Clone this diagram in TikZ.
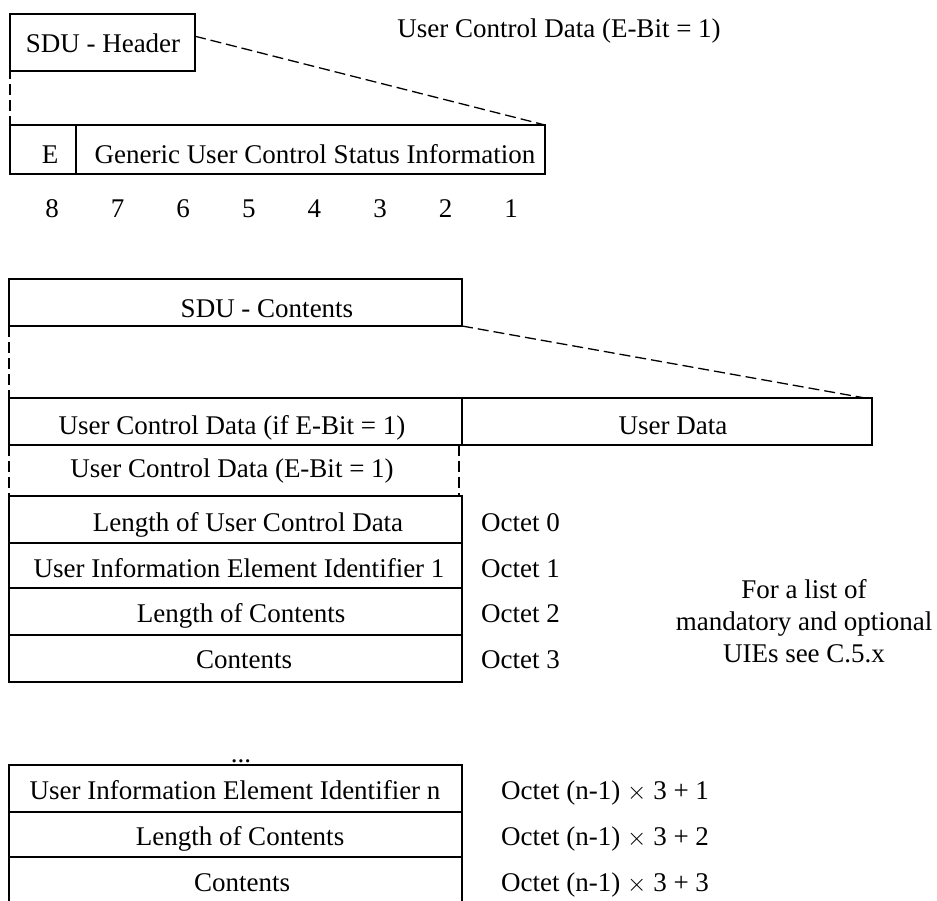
\documentclass[tikz,border=0pt]{standalone}
\usepackage{fontspec}
\setmainfont{Liberation Serif}
\usetikzlibrary{calc}
\newcommand{\rowbox}[5]{%
  \node[boxn, minimum width={#4-#2}, minimum height={#5-#3}] (#1) at ({(#2+#4)/2},{(#3+#5)/2}) {};}
\tikzset{
  boxn/.style={draw=black, line width=1.4pt, rectangle, inner sep=0pt, outer sep=0pt},
  sepline/.style={draw=black, line width=2.4pt},
  txt/.style={anchor=base, inner sep=0pt, font=\fontsize{27}{31}\selectfont},
  txtl/.style={anchor=base west, inner sep=0pt, font=\fontsize{27}{31}\selectfont},
  dline/.style={draw=black, line width=1.3pt, dash pattern=on 11pt off 5pt},
}
\begin{document}
\begin{tikzpicture}[x=1pt,y=-1pt]
\fill[white] (0,0) rectangle (937,900);
\useasboundingbox (0,0) rectangle (937,900);

% ---- top part
\node[txt] (ucdtop) at (559,37) {User Control Data (E-Bit = 1)};
\rowbox{hdr}{10}{14}{195}{71}
\node[txt] (thdr) at (103,52) {SDU - Header};
\rowbox{ebox}{10}{125}{76}{174}
\rowbox{gbox}{76}{125}{545}{174}
\node[txt] (te) at (50,163) {E};
\node[txt] (tg) at (315,163) {Generic User Control Status Information};
\draw[sepline] (gbox.north west) -- (gbox.south west);
\coordinate (hdrr) at ($(hdr.north east)!0.39!(hdr.south east)$);
\coordinate (hdrl) at ($(hdr.north west)!0.39!(hdr.south west)$);
\draw[dline] (hdrl) -- (ebox.north west);
\draw[dline] (hdrr) -- (gbox.north east);
\foreach \n [count=\i from 0] in {8,7,6,5,4,3,2,1} {
  \node[txt] (bit\n) at (52+65.6*\i,217) {\n};
}

% ---- SDU contents
\rowbox{cont}{9}{279}{462}{326}
\node[txt] (tcont) at (267,317) {SDU - Contents};
\rowbox{ucd}{9}{398}{462}{445}
\rowbox{udata}{462}{398}{872}{445}
\draw[sepline] (udata.north west) -- (udata.south west);
\node[txt] (tucd) at (232,434) {User Control Data (if E-Bit = 1)};
\node[txt] (tudata) at (673,434) {User Data};
\draw[dline] (cont.south west) -- (ucd.north west);
\coordinate (udend) at ($(udata.north east)+(-7,0)$);
\draw[dline] (cont.south east) -- (udend);

% ---- user control data
\node[txt] (tucd2) at (232,477) {User Control Data (E-Bit = 1)};
\rowbox{len}{9}{496}{462}{543}
\rowbox{uie1}{9}{543}{462}{588}
\rowbox{loc}{9}{588}{462}{635}
\rowbox{con}{9}{635}{462}{682}
\draw[sepline] (uie1.north west) -- (uie1.north east);
\draw[sepline] (loc.north west) -- (loc.north east);
\draw[sepline] (con.north west) -- (con.north east);
\draw[dline] (ucd.south west) -- (len.north west);
\coordinate (ucdr) at ($(ucd.south east)+(-3,0)$);
\coordinate (lenr) at ($(len.north east)+(-3,0)$);
\draw[dline] (ucdr) -- (lenr);
\node[txt] (tlen) at (248,531) {Length of User Control Data};
\node[txt] (tuie1) at (239,577) {User Information Element Identifier 1};
\node[txt] (tloc) at (241,622) {Length of Contents};
\node[txt] (tcon) at (244,668) {Contents};
\node[txtl] (o0) at (481,531) {Octet 0};
\node[txtl] (o1) at (481,577) {Octet 1};
\node[txtl] (o2) at (481,622) {Octet 2};
\node[txtl] (o3) at (481,668) {Octet 3};
\node[txt] (l1) at (804,598) {For a list of};
\node[txt] (l2) at (804,630) {mandatory and optional};
\node[txt] (l3) at (804,662) {UIEs see C.5.x};

% ---- bottom
\node[txt] (dots) at (241,762) {...};
\rowbox{uien}{9}{765}{462}{812}
\rowbox{locn}{9}{812}{462}{857}
\rowbox{conn}{9}{857}{462}{905}
\draw[sepline] (locn.north west) -- (locn.north east);
\draw[sepline] (conn.north west) -- (conn.north east);
\node[txt] (tuien) at (235,799) {User Information Element Identifier n};
\node[txt] (tlocn) at (240,845) {Length of Contents};
\node[txt] (tconn) at (242,891) {Contents};
\node[txtl] (on1) at (501,799) {Octet (n-1) $\times$ 3 + 1};
\node[txtl] (on2) at (501,845) {Octet (n-1) $\times$ 3 + 2};
\node[txtl] (on3) at (501,891) {Octet (n-1) $\times$ 3 + 3};
\end{tikzpicture}
\end{document}
